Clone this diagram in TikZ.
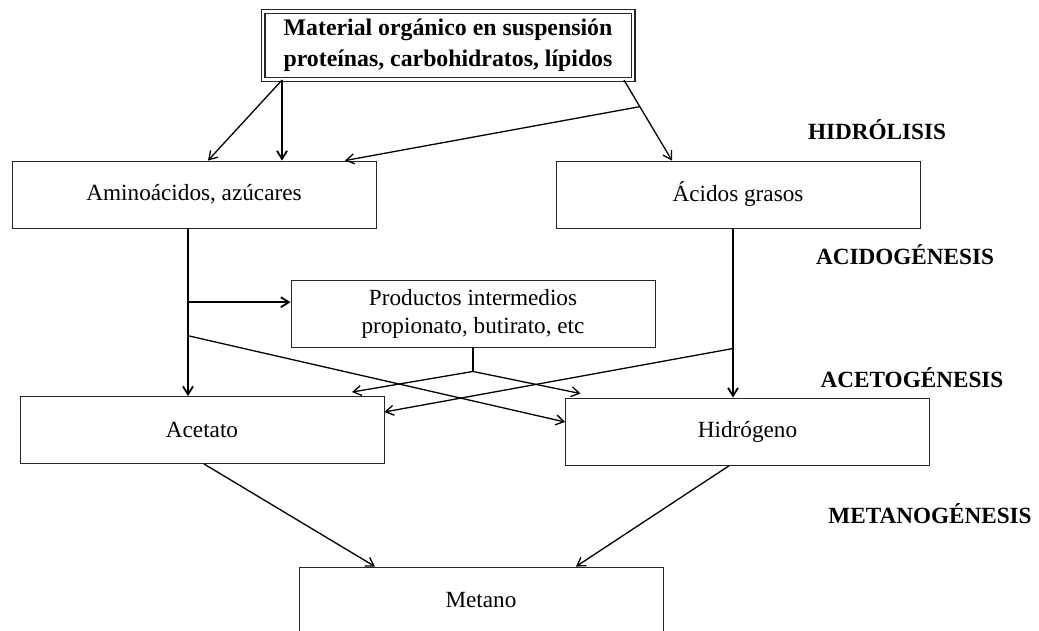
\documentclass[tikz,border=0pt]{standalone}
\usepackage{fontspec}
\setmainfont{Liberation Serif}
\usepackage{tikz}
\usetikzlibrary{arrows.meta,positioning,calc}

\begin{document}
\begin{tikzpicture}[x = 1pt, y = -1pt,
    >={Straight Barb[length=8pt,width=10pt]},
    etapa/.style = {draw = black!85, line width = .9pt, minimum width = 364pt, minimum height = 67pt,
      inner sep = 0pt, align = center, font = \fontsize{23.2}{28}\selectfont},
    fase/.style = {font = \fontsize{23.2}{28}\selectfont\bfseries},
    flujo/.style = {->, line width = 1.3pt},
    recto/.style = {->, line width = 1.8pt}]
  \fill[white] (0,0) rectangle (1039,630);
  \useasboundingbox (0,0) rectangle (1039,630);
  % sustrato
  \node[etapa, double, double distance = 2.6pt, line width = 1.2pt, minimum width = 370pt,
    minimum height = 68pt, font = \fontsize{23.8}{31}\selectfont\bfseries] (src) at (448,45.5)
    {Material orgánico en suspensión\\proteínas, carbohidratos, lípidos};
  \node[etapa] (amino) at (194,194.5) {Aminoácidos, azúcares};
  \node[etapa] (grasos) at (738,194.5) {Ácidos grasos};
  \node[etapa] (interm) at (473,313.5) {Productos intermedios\\propionato, butirato, etc};
  \node[etapa] (acetato) at (202,430) {Acetato};
  \node[etapa] (hidro) at (747.5,431.5) {Hidrógeno};
  \node[etapa] (metano) at (481,600.5) {Metano};
  % fases
  \node[fase] (hidrolisis) at (877,130) {HIDRÓLISIS};
  \node[fase] (acido) at (905,255) {ACIDOGÉNESIS};
  \node[fase] (aceto) at (912,378) {ACETOGÉNESIS};
  \node[fase] (metanog) at (930,514) {METANOGÉNESIS};
  % hidrolisis
  \coordinate (s1) at ([xshift=-166pt]src.south);
  \coordinate (s2) at ([xshift=176pt]src.south);
  \coordinate (g0) at ([xshift=-66pt]grasos.north);
  \draw[flujo] (s1) -- ([xshift=14pt]amino.north);
  \draw[recto] (s1) -- (s1 |- amino.north);
  \draw[flujo] (s2) -- (g0);
  \draw[flujo] ($(s2)!0.33!(g0)$) -- ([xshift=151pt]amino.north);
  % acidogenesis y acetogenesis
  \coordinate (a1) at ([xshift=-6pt]amino.south);
  \coordinate (g1) at ([xshift=-5pt]grasos.south);
  \draw[recto] (a1) -- (a1 |- acetato.north);
  \draw[recto] (g1) -- (g1 |- hidro.north);
  \coordinate (a2) at ($(a1)!0.44!(a1 |- acetato.north)$);
  \draw[recto] (a2) -- (a2 -| interm.west);
  \draw[flujo] ($(a1)!0.64!(a1 |- acetato.north)$) -- ([yshift=9.5pt]hidro.west);
  \draw[flujo] ($(g1)!0.71!(g1 |- hidro.north)$) -- ([yshift=18pt]acetato.east);
  \coordinate (fork) at ([yshift=-24pt]interm.south);
  \draw[line width = 1.8pt] (interm.south) -- (fork);
  \draw[flujo] (fork) -- ([xshift=150pt,yshift=4pt]acetato.north);
  \draw[flujo] (fork) -- ([xshift=-167pt,yshift=4pt]hidro.north);
  % metanogenesis
  \draw[flujo] ([xshift=2pt]acetato.south) -- ([xshift=-106pt]metano.north);
  \draw[flujo] ([xshift=-18pt]hidro.south) -- ([xshift=95pt]metano.north);
\end{tikzpicture}
\end{document}
